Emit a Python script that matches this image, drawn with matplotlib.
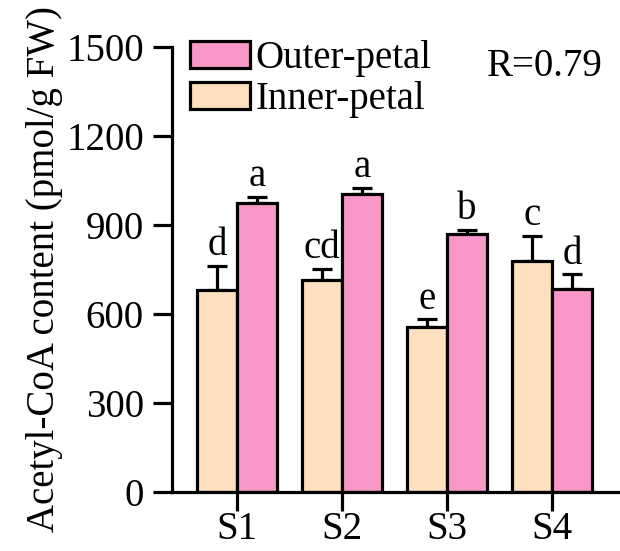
import matplotlib
matplotlib.use("Agg")
import matplotlib.pyplot as plt
import numpy as np

stages = ["S1", "S2", "S3", "S4"]
inner_vals = [682, 715, 555, 780]
inner_err = [80, 38, 28, 84]
outer_vals = [975, 1005, 870, 685]
outer_err = [20, 20, 14, 50]
inner_letters = ["d", "cd", "e", "c"]
outer_letters = ["a", "a", "b", "d"]

plt.rcParams["font.family"] = ["Liberation Serif", "DejaVu Serif"]
plt.rcParams["font.size"] = 28

inner_color = "#FEE0C0"
outer_color = "#F897C8"

fig = plt.figure(figsize=(6.2, 5.51), dpi=100)
ax = fig.add_axes([0.277, 0.107, 0.72, 0.808])

x = np.arange(len(stages))
w = 0.38
lw = 2.3

ax.bar(x - w / 2, inner_vals, w, color=inner_color, edgecolor="black",
       linewidth=lw, label="Inner-petal", zorder=2)
ax.bar(x + w / 2, outer_vals, w, color=outer_color, edgecolor="black",
       linewidth=lw, label="Outer-petal", zorder=2)

# one-sided error bars
ax.errorbar(x - w / 2, inner_vals, yerr=[np.zeros(4), inner_err], fmt="none",
            ecolor="black", elinewidth=lw, capsize=7.5, capthick=lw, zorder=1)
ax.errorbar(x + w / 2, outer_vals, yerr=[np.zeros(4), outer_err], fmt="none",
            ecolor="black", elinewidth=lw, capsize=7.5, capthick=lw, zorder=1)

for i in range(len(stages)):
    ax.annotate(inner_letters[i], (x[i] - w / 2, inner_vals[i] + inner_err[i]),
                xytext=(0, 1), textcoords="offset points", ha="center", va="bottom")
    ax.annotate(outer_letters[i], (x[i] + w / 2, outer_vals[i] + outer_err[i]),
                xytext=(0, 1), textcoords="offset points", ha="center", va="bottom")

ax.set_ylim(0, 1500)
ax.set_yticks([0, 300, 600, 900, 1200, 1500])
ax.set_xlim(-0.62, 3.63)
ax.set_xticks(x)
ax.set_xticklabels(stages)
ax.set_ylabel("Acetyl-CoA content (pmol/g FW)", labelpad=2)

for side in ["top", "right"]:
    ax.spines[side].set_visible(False)
for side in ["left", "bottom"]:
    ax.spines[side].set_linewidth(lw)
ax.tick_params(axis="both", width=lw, length=14)
ax.tick_params(axis="y", pad=6)
ax.tick_params(axis="x", pad=0)

handles, labels = ax.get_legend_handles_labels()
ax.legend(handles[::-1], labels[::-1], loc="upper left",
          bbox_to_anchor=(0.04, 1.015), frameon=False, borderpad=0,
          handlelength=1.55, handleheight=0.7, handletextpad=0.15,
          labelspacing=0.1, borderaxespad=0)

ax.text(0.965, 0.955, "R=0.79", transform=ax.transAxes, ha="right", va="center")

fig.savefig("out.png", dpi=100)
